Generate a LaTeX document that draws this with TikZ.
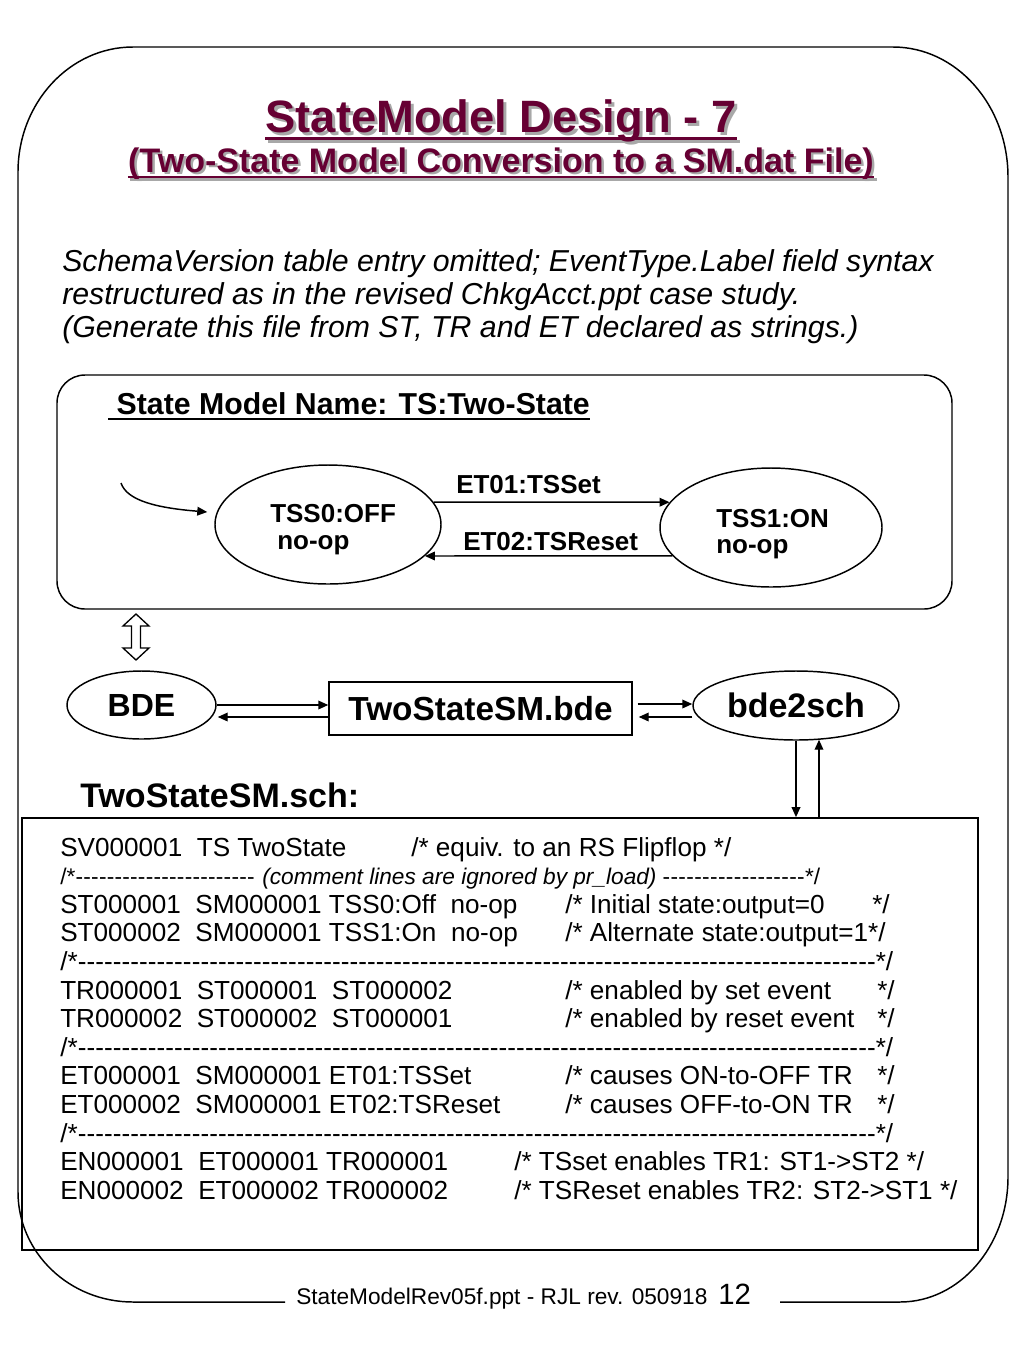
\documentclass[tikz,border=0pt]{standalone}
\usepackage{fontspec}
\setmainfont{Liberation Sans}
\usetikzlibrary{shapes.geometric,arrows.meta,calc}
\definecolor{titlecol}{HTML}{660033}
\definecolor{shadowcol}{HTML}{A8A8A8}
\tikzset{
  frame/.style={draw=black, line width=1.1pt},
  st/.style={draw, ellipse, line width=1.1pt, inner sep=0pt},
  arr/.style={-{Triangle[length=7.5pt,width=6.5pt]}, line width=1.1pt},
  lbl/.style={font=\fontsize{19.5}{22}\selectfont\bfseries, inner sep=0pt, anchor=base west},
  big/.style={font=\fontsize{25}{28}\selectfont\bfseries, inner sep=0pt},
  code/.style={font=\fontsize{19.6}{22}\selectfont, inner sep=0pt, anchor=base west},
  smallcode/.style={font=\fontsize{17}{20}\selectfont, inner sep=0pt, anchor=base west},
  ttlfont/.style={font=\fontsize{34}{38}\selectfont\bfseries, inner sep=0pt, anchor=base},
  subfont/.style={font=\fontsize{25.5}{30}\selectfont\bfseries, inner sep=0pt, anchor=base},
  para/.style={font=\fontsize{22.7}{26}\selectfont\itshape, inner sep=0pt, anchor=base west},
}
\begin{document}
\begin{tikzpicture}[x=0.75pt,y=-0.75pt]
\useasboundingbox (0,0) rectangle (1024,1365);
\fill[white] (0,0) rectangle (1024,1365);

% outer slide frame
\draw[frame] (285,1302) -- (133,1302) .. controls (69.5,1302) and (18,1252.8) .. (18,1192)
  -- (18,172) .. controls (18,103) and (69.5,47) .. (133,47)
  -- (893,47) .. controls (956.5,47) and (1008,105.2) .. (1008,177)
  -- (1008,1177) .. controls (1008,1246) and (959.6,1302) .. (900,1302) -- (780,1302);

% titles with shadow
\node[ttlfont, text=shadowcol] (ttlsh) at (504,135) {StateModel Design - 7};
\draw[shadowcol, line width=2.2pt] ([yshift=-5pt]ttlsh.base west) -- ([yshift=-5pt]ttlsh.base east);
\node[ttlfont, text=titlecol] (ttl) at (501,132) {StateModel Design - 7};
\draw[titlecol, line width=2.2pt] ([yshift=-5pt]ttl.base west) -- ([yshift=-5pt]ttl.base east);

\node[subfont, text=shadowcol] (subsh) at (503.5,174.5) {(Two-State Model Conversion to a SM.dat File)};
\draw[shadowcol, line width=1.8pt] ([yshift=-3.8pt]subsh.base west) -- ([yshift=-3.8pt]subsh.base east);
\node[subfont, text=titlecol] (sub) at (501,172) {(Two-State Model Conversion to a SM.dat File)};
\draw[titlecol, line width=1.8pt] ([yshift=-3.8pt]sub.base west) -- ([yshift=-3.8pt]sub.base east);

% italic paragraph
\node[para] (p1) at (62,271) {SchemaVersion table entry omitted; EventType.Label field syntax};
\node[para] (p2) at (62,304) {restructured as in the revised ChkgAcct.ppt case study.};
\node[para] (p3) at (62,337) {(Generate this file from ST, TR and ET declared as strings.)};

% state model box
\node[draw, rounded corners=21pt, line width=1.1pt, minimum width=671.25pt, minimum height=175.5pt, inner sep=0pt] (model) at (504.5,492) {};
\node[font=\fontsize{22.7}{26}\selectfont\bfseries, inner sep=0pt, anchor=base west] (smname) at (108,414) {\ State Model Name: TS:Two-State};
\draw[line width=1.6pt] ([yshift=-4pt]smname.base west) -- ([yshift=-4pt]smname.base east);

\node[st, minimum width=169.5pt, minimum height=89.25pt] (tss0) at (328,524.5) {};
\node[st, minimum width=166.5pt, minimum height=89.25pt] (tss1) at (771,527.5) {};
\node[lbl] (t0a) at (270,522) {TSS0:OFF};
\node[lbl] (t0b) at (277,549) {no-op};
\node[lbl] (t1a) at (716,527) {TSS1:ON};
\node[lbl] (t1b) at (716,553) {no-op};
\node[lbl] (e1) at (456,493) {ET01:TSSet};
\node[lbl] (e2) at (463,550) {ET02:TSReset};

\coordinate (init) at (121,483);
\draw[arr] (init) .. controls (127,501) and (158,508) .. ($(tss0.west)+(-7,-12.5)$);
\draw[arr] (tss0.12) -- (tss1.166);
\draw[arr] (tss1.196) -- (tss0.342);

% hollow double arrow
\draw[line width=1pt, line join=miter] (136,614) -- (149,626) -- (140.5,626) -- (140.5,648) -- (149,648)
  -- (136,660) -- (123,648) -- (131.5,648) -- (131.5,626) -- (123,626) -- cycle;

% tool chain row
\node[st, big, font=\fontsize{24}{28}\selectfont\bfseries, minimum width=111.75pt, minimum height=51pt] (bde) at (141.5,705) {BDE};
\node[draw, line width=1.1pt, big, minimum width=227.25pt, minimum height=39.75pt] (bdefile) at (480.5,708.5) {TwoStateSM.bde};
\node[st, big, font=\fontsize{25.5}{28}\selectfont\bfseries, minimum width=154.5pt, minimum height=51.75pt] (bde2sch) at (796,705.5) {bde2sch};

\draw[arr] (bde.east) -- ($(bdefile.west)+(0,-3.5)$);
\draw[arr] ($(bdefile.west)+(0,8.5)$) -- ($(bde.east)+(1,12)$);
\draw[arr] ($(bdefile.east)+(5,-4.5)$) -- ($(bde2sch.west)+(0,-1.5)$);
\draw[arr] ($(bde2sch.west)+(0,11.5)$) -- ($(bdefile.east)+(6,8.5)$);

\node[big, font=\fontsize{25.5}{30}\selectfont\bfseries, anchor=base west] (schlbl) at (80,807) {TwoStateSM.sch:};

% code box
\node[draw, line width=1.3pt, minimum width=717pt, minimum height=324pt, inner sep=0pt] (code) at (500,1034) {};
\draw[arr] (bde2sch.south) -- (bde2sch.south |- code.north);
\draw[arr] ($(bde2sch.south)+(23,78)$) -- ($(bde2sch.south)+(23,-1)$);

% code lines
\node[code] (c1a) at (60,856) {SV000001\ \ TS TwoState};
\node[code] (c1b) at (411,856) {/* equiv. to an RS Flipflop */};

\node[smallcode] (c2a) at (60,884.6) {\hbox to 146pt{/*\xleaders\hbox{-}\hfill}};
\node[smallcode, font=\fontsize{17}{20}\selectfont\itshape] (c2b) at (262,884.6) {(comment lines are ignored by pr\_load)};
\node[smallcode] (c2c) at (662,884.6) {\hbox to 118.5pt{\xleaders\hbox{-}\hfill*/}};

\node[code] (c3a) at (60,913.2) {ST000001\ \ SM000001 TSS0:Off\ \ no-op};
\node[code] (c3b) at (565,913.2) {/* Initial state:output=0};
\node[code] (c3c) at (872,913.2) {*/};

\node[code] (c4a) at (60,941.8) {ST000002\ \ SM000001 TSS1:On\ \ no-op};
\node[code] (c4b) at (565,941.8) {/* Alternate state:output=1*/};

\node[code] (c5) at (60,970.4) {\hbox to 624.75pt{/*\xleaders\hbox{-}\hfill*/}};

\node[code] (c6a) at (60,999) {TR000001\ \ ST000001\ \ ST000002};
\node[code] (c6b) at (565,999) {/* enabled by set event};
\node[code] (c6c) at (877,999) {*/};

\node[code] (c7a) at (60,1027.6) {TR000002\ \ ST000002\ \ ST000001};
\node[code] (c7b) at (565,1027.6) {/* enabled by reset event};
\node[code] (c7c) at (877,1027.6) {*/};

\node[code] (c8) at (60,1056.2) {\hbox to 624.75pt{/*\xleaders\hbox{-}\hfill*/}};

\node[code] (c9a) at (60,1084.8) {ET000001\ \ SM000001 ET01:TSSet};
\node[code] (c9b) at (565,1084.8) {/* causes ON-to-OFF TR};
\node[code] (c9c) at (877,1084.8) {*/};

\node[code] (c10a) at (60,1113.4) {ET000002\ \ SM000001 ET02:TSReset};
\node[code] (c10b) at (565,1113.4) {/* causes OFF-to-ON TR};
\node[code] (c10c) at (877,1113.4) {*/};

\node[code] (c11) at (60,1142) {\hbox to 624.75pt{/*\xleaders\hbox{-}\hfill*/}};

\node[code] (c12a) at (60,1170.6) {EN000001\ \ ET000001 TR000001};
\node[code] (c12b) at (514,1170.6) {/* TSset enables TR1: ST1->ST2 */};

\node[code] (c13a) at (60,1199.2) {EN000002\ \ ET000002 TR000002};
\node[code] (c13b) at (514,1199.2) {/* TSReset enables TR2: ST2->ST1 */};

% footer
\node[font=\fontsize{17}{20}\selectfont, inner sep=0pt, anchor=base west] (foot) at (296,1304) {StateModelRev05f.ppt - RJL rev. 050918};
\node[font=\fontsize{22}{26}\selectfont, inner sep=0pt, anchor=base west] (pgno) at (718,1304) {12};
\end{tikzpicture}
\end{document}
